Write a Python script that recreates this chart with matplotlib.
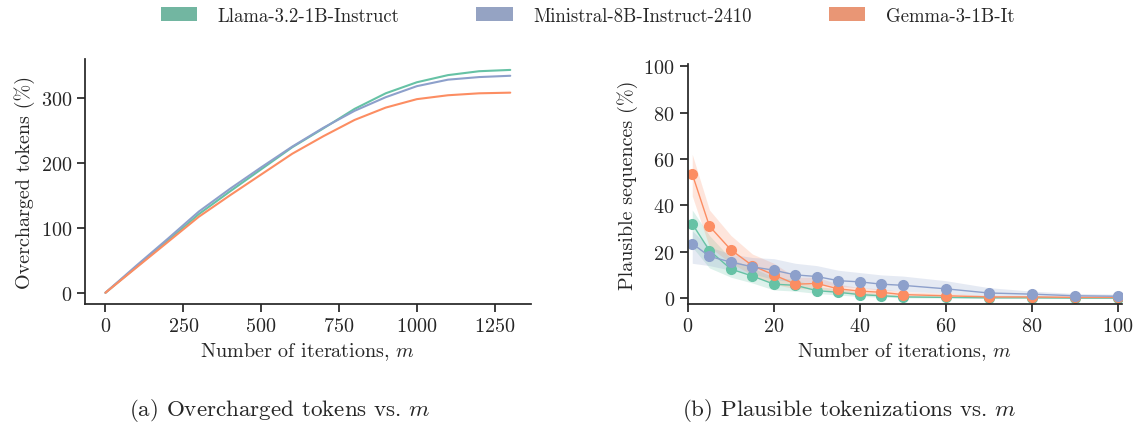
import matplotlib
matplotlib.use("Agg")
import matplotlib.pyplot as plt
from matplotlib.patches import Patch
import seaborn as sns

# (a) overcharged tokens vs m
iters = [0, 100, 200, 300, 400, 500, 600, 700, 800, 900, 1000, 1100, 1200, 1300]
llama_over = [0, 40, 80, 121, 156, 190, 224, 253, 283, 307, 324, 335, 341, 343]
ministral_over = [0, 42, 83, 125, 160, 193, 225, 254, 280, 301, 318, 328, 332, 334]
gemma_over = [0, 39, 78, 117, 150, 182, 214, 241, 266, 285, 298, 304, 307, 308]

# (b) plausible sequences vs m (mean and band)
m_vals = [1, 5, 10, 15, 20, 25, 30, 35, 40, 45, 50, 60, 70, 80, 90, 100]
llama_pl = [32, 20.5, 12.5, 9.5, 6, 5.5, 3.2, 2.5, 1.5, 1.0, 0.5, 0.3, 0.1, 0.1, 0.0, 0.0]
llama_lo = [22, 13, 9, 6.5, 3.5, 3, 2, 1.3, 0.7, 0.4, 0.1, 0, 0, 0, 0, 0]
llama_hi = [38, 27, 17, 13, 9, 8, 5, 4, 2.5, 2, 1.2, 0.8, 0.4, 0.3, 0.2, 0.2]
ministral_pl = [23.5, 18, 15.5, 13.5, 12, 10, 9.3, 7.5, 7, 6, 5.5, 4, 2.2, 1.7, 1.0, 0.8]
ministral_lo = [15, 14, 12, 10.5, 8, 7, 6.5, 5, 4.5, 3.5, 3, 2, 0.8, 0.5, 0.2, 0.2]
ministral_hi = [29, 22, 19, 17.5, 17, 15, 14, 12, 11, 10, 9.5, 7.5, 4.5, 3, 2, 1.7]
gemma_pl = [53.5, 31, 20.8, 14, 10, 6, 6.3, 4, 3, 2.5, 1.5, 1, 0.5, 0.5, 0.3, 0.3]
gemma_lo = [44, 22, 15, 10, 6, 4, 4, 2.5, 1.5, 1.2, 0.6, 0.3, 0.1, 0.1, 0, 0]
gemma_hi = [62, 38, 27, 19, 15, 9, 9, 6, 4.5, 4, 2.8, 2, 1.2, 1.1, 0.8, 0.7]

models = ["Llama-3.2-1B-Instruct", "Ministral-8B-Instruct-2410", "Gemma-3-1B-It"]
set2 = sns.color_palette("Set2", 3)
colors = [set2[0], set2[2], set2[1]]  # green, blue, orange

sns.set_theme(style="ticks")
plt.rcParams["font.family"] = ["cmr10", "DejaVu Serif"]
plt.rcParams["mathtext.fontset"] = "cm"
plt.rcParams["axes.formatter.use_mathtext"] = True
plt.rcParams["font.size"] = 14.5

fig = plt.figure(figsize=(11.36, 4.27), dpi=100)
ax1 = fig.add_axes([0.075, 0.286, 0.392, 0.574])
ax2 = fig.add_axes([0.6056, 0.286, 0.382, 0.562])

# left panel
for vals, c in zip([llama_over, ministral_over, gemma_over], colors):
    ax1.plot(iters, vals, color=c, linewidth=1.5)
ax1.set_xticks([0, 250, 500, 750, 1000, 1250])
ax1.set_yticks([0, 100, 200, 300])
ax1.set_xlabel("Number of iterations, $m$", fontsize=14.5)
ax1.set_ylabel("Overcharged tokens (%)", fontsize=14.5)

# right panel
series = [
    (llama_pl, llama_lo, llama_hi, colors[0]),
    (gemma_pl, gemma_lo, gemma_hi, colors[2]),
    (ministral_pl, ministral_lo, ministral_hi, colors[1]),
]
for mean, lo, hi, c in series:
    ax2.fill_between(m_vals, lo, hi, color=c, alpha=0.22, linewidth=0)
    ax2.plot(m_vals, mean, color=c, linewidth=1, marker="o", markersize=7)
ax2.set_xlim(0, 101)
ax2.set_ylim(-2.5, 101)
ax2.set_xticks([0, 20, 40, 60, 80, 100])
ax2.set_yticks([0, 20, 40, 60, 80, 100])
ax2.set_xlabel("Number of iterations, $m$", fontsize=14.5)
ax2.set_ylabel("Plausible sequences (%)", fontsize=14.5)

for ax in (ax1, ax2):
    sns.despine(ax=ax)
    ax.tick_params(labelsize=14.5, length=6, width=1.25, colors=".15")
    for s in ("left", "bottom"):
        ax.spines[s].set_linewidth(1.25)
        ax.spines[s].set_color(".15")

handles = [Patch(facecolor=sns.desaturate(c, 0.75), edgecolor="none") for c in colors]
fig.legend(handles, models, loc="center", bbox_to_anchor=(0.517, 0.961),
           ncol=3, frameon=False, fontsize=13.5, handlelength=1.97,
           handleheight=0.7, handletextpad=1.07, columnspacing=4.1,
           borderpad=0, borderaxespad=0)

fig.text(0.2465, 0.025, "(a) Overcharged tokens vs. $m$", ha="center",
         va="baseline", fontsize=16.6)
fig.text(0.748, 0.025, "(b) Plausible tokenizations vs. $m$", ha="center",
         va="baseline", fontsize=16.6)

fig.savefig("out.png", dpi=100)
